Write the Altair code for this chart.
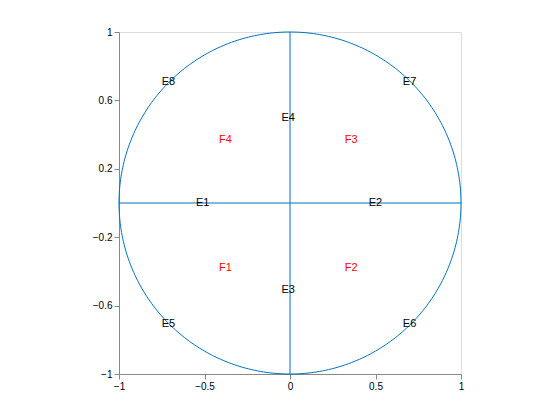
import altair as alt
import numpy as np
import pandas as pd

# label positions (left edge of text)
e_names = ["E1", "E2", "E3", "E4", "E5", "E6", "E7", "E8"]
e_x = [-0.55, 0.46, -0.05, -0.05, -0.75, 0.66, 0.66, -0.75]
e_y = [0.0, 0.0, -0.51, 0.50, -0.71, -0.71, 0.71, 0.71]

f_names = ["F1", "F2", "F3", "F4"]
f_x = [-0.415, 0.32, 0.32, -0.415]
f_y = [-0.38, -0.38, 0.37, 0.37]

ticks = [-1, -0.8, -0.6, -0.4, -0.2, 0, 0.2, 0.4, 0.6, 0.8, 1]
xticks = [-1, -0.5, 0, 0.5, 1]

t = np.linspace(0, 2 * np.pi, 361)
circle = pd.DataFrame({"x": np.cos(t), "y": np.sin(t), "i": range(361)})
cross = pd.DataFrame({"x": [-1, 0], "x2": [1, 0], "y": [0, -1], "y2": [0, 1]})
edf = pd.DataFrame({"name": e_names, "x": e_x, "y": e_y})
fdf = pd.DataFrame({"name": f_names, "x": f_x, "y": f_y})

blue = "#0072BD"
xs = alt.Scale(domain=[-1, 1], nice=False)
ys = alt.Scale(domain=[-1, 1], nice=False)
xax = alt.Axis(values=xticks, grid=False, title=None, labelFlush=False, labelOverlap=False, format="~g")
yax = alt.Axis(values=ticks, grid=False, title=None, labelFlush=False, labelOverlap=False, format="~g")

ring = alt.Chart(circle).mark_line(color=blue, strokeWidth=1).encode(
    x=alt.X("x:Q", scale=xs, axis=xax),
    y=alt.Y("y:Q", scale=ys, axis=yax),
    order="i:Q",
)
lines = alt.Chart(cross).mark_rule(color=blue, strokeWidth=1).encode(
    x="x:Q", x2="x2:Q", y="y:Q", y2="y2:Q"
)
etext = alt.Chart(edf).mark_text(align="left", baseline="middle", fontSize=11, color="black").encode(
    x="x:Q", y="y:Q", text="name:N"
)
ftext = alt.Chart(fdf).mark_text(align="left", baseline="middle", fontSize=11, color="red").encode(
    x="x:Q", y="y:Q", text="name:N"
)

chart = (ring + lines + etext + ftext).properties(
    width=342, height=342,
    autosize=alt.AutoSizeParams(type="none"),
    padding={"left": 111, "top": 24, "right": 91, "bottom": 38},
).configure_view(stroke="#262626", strokeWidth=1).configure_axis(
    labelFont="Liberation Sans", labelFontSize=11, labelColor="#262626",
    domainColor="#262626", tickColor="#262626", tickSize=4, labelPadding=4,
).configure(font="Liberation Sans")

chart.save("out.html", embed_options={"renderer": "svg", "actions": False})
